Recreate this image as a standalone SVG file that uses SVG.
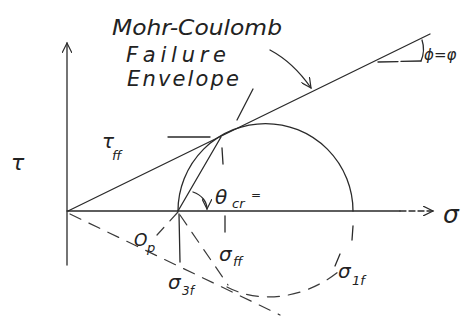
<svg xmlns="http://www.w3.org/2000/svg" width="470" height="322" viewBox="0 0 470 322">
<style>
.ln{fill:none;stroke:#2a2a2a;stroke-width:1.3;stroke-linecap:round}
.dsh{fill:none;stroke:#3a3a3a;stroke-width:1.2;stroke-dasharray:12 9;stroke-linecap:round}
.t{font-family:"DejaVu Sans","Liberation Sans",sans-serif;font-style:italic;fill:#222}
</style>
<defs>
<marker id="ah" markerWidth="12" markerHeight="10" refX="10" refY="5" orient="auto" markerUnits="userSpaceOnUse">
<path d="M0,0 L10,5 L0,10" fill="none" stroke="#2a2a2a" stroke-width="1.2"/>
</marker>
</defs>
<rect width="470" height="322" fill="#fff"/>
<g id="axes">
<line class="ln" x1="67" y1="265" x2="67" y2="43" marker-end="url(#ah)"/>
<line class="ln" x1="67" y1="211" x2="400" y2="211"/>
<line class="ln" x1="400" y1="211" x2="433" y2="211" stroke-dasharray="6 3" marker-end="url(#ah)"/>
</g>
<g id="connectors">
<line class="ln" x1="68" y1="211" x2="430" y2="34"/>
<line class="dsh" x1="70" y1="214" x2="280" y2="315"/>
<path class="ln" d="M178,211 A87.5,87.5 0 0 1 353,211"/>
<path class="dsh" d="M227,287 C255,302 300,302 338,272"/>
<line class="ln" x1="178" y1="211" x2="221" y2="137"/>
<line class="dsh" x1="178" y1="212" x2="157" y2="235"/>
<line class="dsh" x1="180" y1="215" x2="228" y2="285"/>
<line class="ln" x1="179" y1="214" x2="180" y2="262"/>
<line class="ln" x1="168" y1="137" x2="210" y2="137"/>
<line class="ln" x1="222" y1="148" x2="223" y2="164"/>
<line class="ln" x1="225" y1="216" x2="225" y2="232"/>
<line class="ln" x1="353" y1="226" x2="352" y2="240"/>
<line class="ln" x1="335" y1="266" x2="340" y2="254"/>
<line class="ln" x1="253" y1="89" x2="237" y2="120"/>
<path class="ln" d="M270,50 C285,58 300,72 311,88" marker-end="url(#ah)"/>
<line class="ln" x1="378" y1="62" x2="421" y2="61" stroke-dasharray="20 3"/>
<path class="ln" d="M421,61 C424,54 424,46 422,40"/>
<path class="ln" d="M193,192 C202,195 207,202 207,209" marker-end="url(#ah)"/>
</g>
<g id="labels">
<text class="t" x="112" y="35" font-size="22" textLength="170" lengthAdjust="spacingAndGlyphs">Mohr-Coulomb</text>
<text class="t" x="126" y="62" font-size="21" textLength="100">Failure</text>
<text class="t" x="127" y="86" font-size="21" textLength="112">Envelope</text>
<text class="t" x="424" y="60" font-size="15">ϕ=φ</text>
<text class="t" x="11" y="170" font-size="22">τ</text>
<text class="t" x="102" y="148" font-size="20">τ</text>
<text class="t" x="112" y="160" font-size="13">ff</text>
<text class="t" x="215" y="204" font-size="20">θ</text>
<text class="t" x="232" y="208" font-size="13">cr</text>
<text class="t" x="251" y="199" font-size="12">=</text>
<text class="t" x="443" y="223" font-size="25">σ</text>
<text class="t" x="134" y="246" font-size="17">O</text>
<text class="t" x="147" y="252" font-size="13">p</text>
<text class="t" x="219" y="261" font-size="20">σ</text>
<text class="t" x="233" y="266" font-size="13">ff</text>
<text class="t" x="168" y="289" font-size="20">σ</text>
<text class="t" x="182" y="295" font-size="12">3f</text>
<text class="t" x="338" y="278" font-size="20">σ</text>
<text class="t" x="352" y="285" font-size="13">1f</text>
</g>
</svg>
